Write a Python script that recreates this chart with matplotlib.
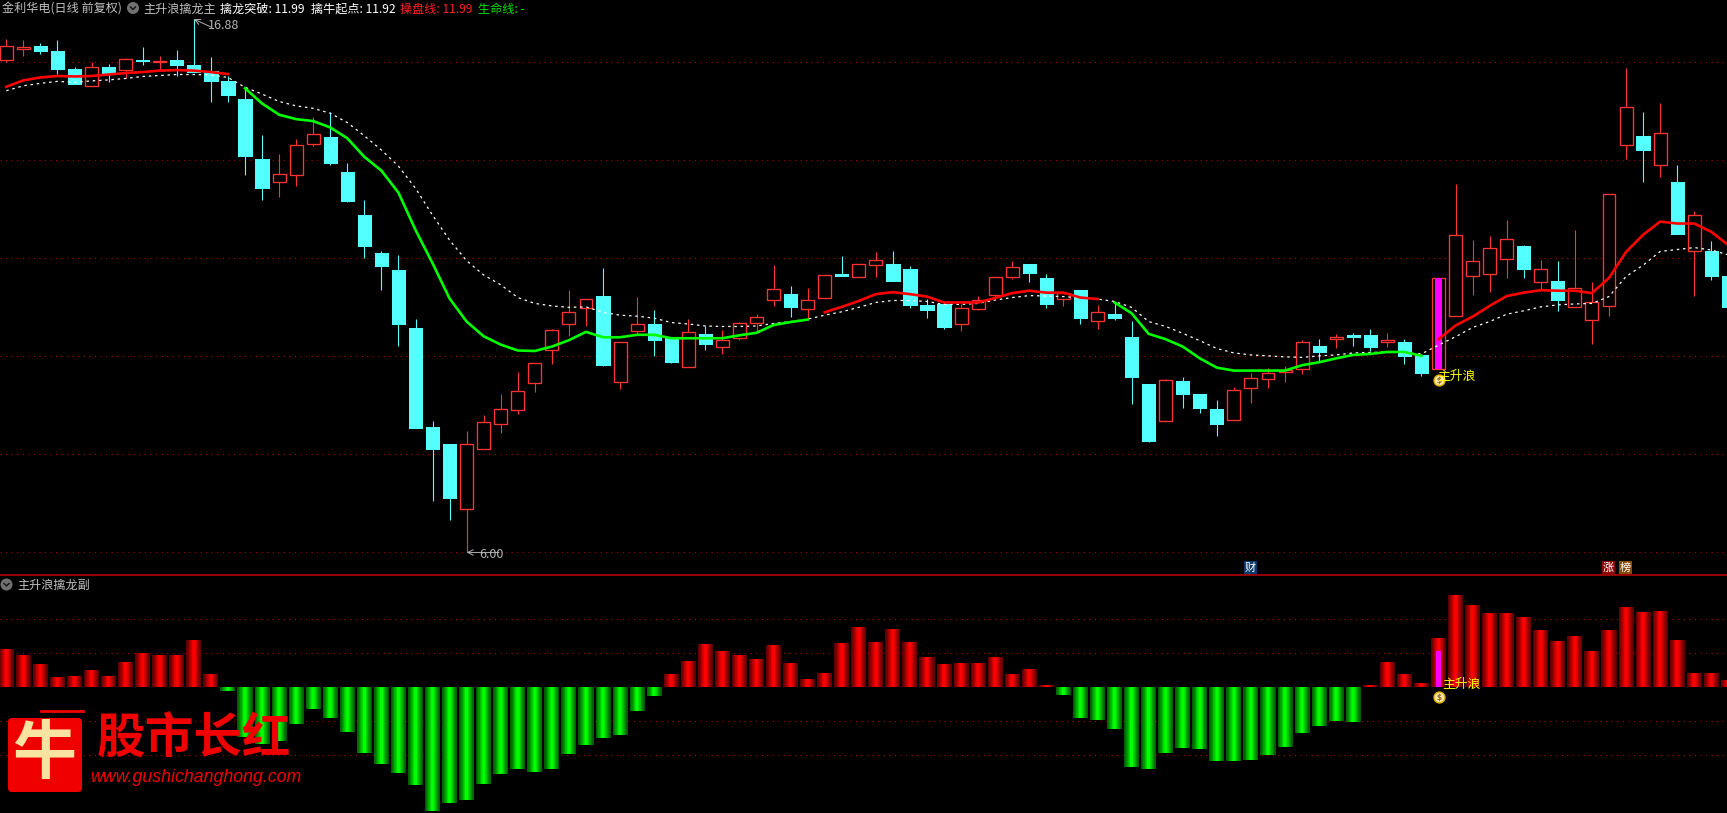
#! /usr/bin/env python
# K-line chart with main line, white dashed line and a histogram panel below

import numpy as np
import matplotlib
matplotlib.use("Agg")
import matplotlib.pyplot as plt
from matplotlib.patches import Circle, FancyBboxPatch, Rectangle

plt.rcParams['font.family'] = ['Noto Sans CJK SC', 'DejaVu Sans']

# candles, one value per day
opens = [16.05, 16.28, 16.33, 16.23, 15.86, 15.52, 15.90, 15.85, 16.05, 16.00, 16.05, 15.95, 15.82, 15.62, 15.25, 14.03, 13.56,
         13.69, 14.34, 14.48, 13.76, 12.88, 12.11, 11.76, 10.58, 8.56, 8.21, 6.89, 8.12, 8.63, 8.91, 9.46, 10.12, 10.67,
         10.99, 11.23, 9.48, 10.52, 10.66, 10.37, 9.79, 10.46, 10.20, 10.38, 10.69, 11.16, 11.27, 10.97, 11.20, 11.68, 11.61,
         11.87, 11.88, 11.78, 11.05, 11.07, 10.67, 10.97, 11.26, 11.61, 11.88, 11.60, 11.17, 11.35, 10.73, 10.86, 10.39, 9.44,
         8.69, 9.50, 9.23, 8.93, 8.71, 9.36, 9.54, 9.69, 9.75, 10.21, 10.35, 10.43, 10.44, 10.30, 10.29, 10.03, 9.75, 10.83,
         11.63, 11.69, 11.99, 12.25, 11.52, 11.54, 11.01, 10.75, 11.03, 14.32, 14.50, 13.91, 13.56, 12.14, 12.15, 11.64]
closes = [16.33, 16.31, 16.23, 15.86, 15.56, 15.90, 15.78, 16.06, 16.03, 16.03, 15.95, 15.81, 15.62, 15.33, 14.09, 13.44, 13.72,
          14.31, 14.53, 13.95, 13.17, 12.25, 11.84, 10.66, 8.54, 8.11, 7.11, 8.22, 8.67, 8.92, 9.29, 9.86, 10.53, 10.90,
          11.18, 9.82, 10.29, 10.67, 10.33, 9.88, 10.49, 10.25, 10.33, 10.69, 10.80, 11.37, 11.01, 11.16, 11.67, 11.63, 11.88,
          11.96, 11.54, 11.05, 10.95, 10.60, 10.98, 11.16, 11.61, 11.82, 11.70, 11.07, 11.29, 10.78, 10.90, 10.78, 9.58, 8.27,
          9.51, 9.23, 8.95, 8.62, 9.31, 9.55, 9.67, 9.72, 10.29, 10.09, 10.39, 10.40, 10.20, 10.33, 10.01, 9.66, 11.59, 12.47,
          11.94, 12.22, 12.39, 11.78, 11.78, 11.15, 11.39, 11.10, 13.31, 15.08, 14.21, 14.55, 12.50, 12.88, 11.64, 11.01]
highs = [16.48, 16.46, 16.40, 16.46, 15.90, 16.01, 15.97, 16.08, 16.31, 16.13, 16.25, 16.88, 16.11, 15.72, 15.49, 14.52, 14.13,
         14.44, 14.88, 14.99, 13.95, 13.19, 12.15, 12.07, 10.76, 8.68, 8.21, 8.48, 8.80, 9.23, 9.68, 9.86, 10.56, 11.35,
         11.18, 11.80, 10.29, 11.21, 10.95, 10.39, 10.76, 10.62, 10.54, 10.71, 10.86, 11.86, 11.44, 11.39, 11.67, 12.05, 11.88,
         12.13, 12.15, 11.84, 11.17, 11.12, 11.07, 11.23, 11.61, 11.95, 11.88, 11.68, 11.32, 11.35, 11.05, 11.09, 10.72, 9.44,
         9.53, 9.58, 9.23, 9.11, 9.37, 9.66, 9.76, 9.80, 10.33, 10.35, 10.46, 10.48, 10.56, 10.48, 10.35, 10.05, 11.59, 13.52,
         12.37, 12.46, 12.78, 12.27, 11.97, 11.95, 12.58, 11.52, 13.31, 15.88, 14.99, 15.17, 13.90, 12.97, 12.35, 11.64]
lows = [16.01, 16.12, 16.17, 15.76, 15.56, 15.52, 15.59, 15.68, 15.95, 15.84, 15.72, 15.81, 15.18, 15.18, 13.70, 13.19, 13.25,
        13.48, 14.29, 13.90, 13.15, 12.01, 11.35, 10.21, 8.54, 7.05, 6.66, 6.00, 8.12, 8.44, 8.82, 9.27, 9.84, 10.41,
        10.62, 9.80, 9.33, 10.46, 10.01, 9.86, 9.79, 10.13, 10.05, 10.33, 10.50, 11.03, 10.80, 10.76, 11.20, 11.63, 11.61,
        11.62, 11.54, 10.99, 10.78, 10.56, 10.52, 10.95, 11.22, 11.58, 11.52, 10.99, 11.03, 10.66, 10.56, 10.74, 9.03, 8.25,
        8.69, 8.95, 8.84, 8.37, 8.71, 9.05, 9.35, 9.48, 9.64, 9.90, 10.17, 10.21, 10.10, 10.19, 9.84, 9.60, 9.75, 10.83,
        11.25, 11.31, 11.60, 11.60, 11.35, 10.93, 11.01, 10.25, 10.82, 14.03, 13.56, 13.66, 12.50, 11.23, 11.56, 11.01]

# main line, coloured by stretch below
main_line = [15.50, 15.63, 15.69, 15.72, 15.71, 15.72, 15.75, 15.78, 15.80, 15.83, 15.84, 15.83, 15.80, 15.76,
             15.47, 15.16, 14.93, 14.84, 14.80, 14.67, 14.45, 14.07, 13.79, 13.34, 12.58, 11.90, 11.18, 10.71, 10.41,
             10.24, 10.12, 10.11, 10.20, 10.33, 10.50, 10.39, 10.39, 10.44, 10.44, 10.37, 10.37, 10.37, 10.37, 10.43,
             10.48, 10.64, 10.70, 10.75,
             10.90, 11.01, 11.13, 11.27, 11.31, 11.27, 11.22, 11.10, 11.10, 11.10, 11.19, 11.29, 11.34, 11.30, 11.30,
             11.20, 11.17,
             11.10, 10.88, 10.46, 10.35, 10.20, 9.96, 9.77, 9.71, 9.71, 9.71, 9.71, 9.82, 9.88, 9.96, 10.03, 10.05,
             10.09, 10.09, 10.01,
             10.35, 10.63, 10.81, 11.03, 11.23, 11.30, 11.35, 11.34, 11.34, 11.29, 11.60, 12.13, 12.48, 12.75, 12.71,
             12.71, 12.54, 12.27]
line_stretches = [(0, 13, '#ff0000'), (14, 47, '#00ff00'), (48, 64, '#ff0000'), (65, 83, '#00ff00'), (84, 101, '#ff0000')]

white_line = [15.42, 15.52, 15.57, 15.61, 15.59, 15.62, 15.64, 15.67, 15.71, 15.73, 15.75, 15.75, 15.74, 15.69, 15.49,
              15.35, 15.20, 15.11, 15.06, 14.96, 14.77, 14.50, 14.21, 13.88, 13.43, 12.88, 12.37, 11.95, 11.66, 11.46,
              11.20, 11.08, 11.03, 11.00, 11.01, 10.90, 10.84, 10.82, 10.78, 10.69, 10.66, 10.62, 10.61, 10.61, 10.62,
              10.67, 10.71, 10.76, 10.84, 10.91, 11.00, 11.10, 11.14, 11.14, 11.12, 11.06, 11.06, 11.08, 11.15, 11.20,
              11.24, 11.23, 11.22, 11.19, 11.17, 11.12, 11.00, 10.71, 10.61, 10.47, 10.32, 10.16, 10.07, 10.03, 10.01,
              9.99, 9.98, 10.01, 10.03, 10.07, 10.08, 10.09, 10.07, 10.05, 10.23, 10.40, 10.59, 10.71, 10.86, 10.93,
              11.01, 11.05, 11.07, 11.08, 11.22, 11.63, 11.86, 12.14, 12.18, 12.22, 12.17, 12.07]

# lower panel histogram
hist_values = [1.13, 0.95, 0.69, 0.30, 0.33, 0.51, 0.33, 0.75, 1.01, 0.95, 0.95, 1.39, 0.39, -0.11, -1.46, -1.67, -1.58,
               -1.08, -0.64, -0.90, -1.31, -1.93, -2.25, -2.52, -2.87, -3.64, -3.40, -3.31, -2.84, -2.55, -2.40, -2.49,
               -2.40, -1.96, -1.70, -1.49, -1.40, -0.70, -0.25, 0.39, 0.77, 1.27, 1.07, 0.95, 0.83, 1.25, 0.72, 0.25,
               0.42, 1.30, 1.77, 1.33, 1.72, 1.33, 0.89, 0.69, 0.72, 0.72, 0.89, 0.39, 0.54, 0.07, -0.23, -0.90, -0.96,
               -1.23, -2.34, -2.40, -1.94, -1.78, -1.81, -2.17, -2.17, -2.14, -2.00, -1.75, -1.34, -1.14, -0.99, -1.02,
               0.07, 0.75, 0.39, 0.13, 1.45, 2.72, 2.42, 2.19, 2.19, 2.07, 1.69, 1.36, 1.51, 1.07, 1.69, 2.36, 2.22,
               2.25, 1.39, 0.42, 0.42, 0.22]

price_grid = [6, 8, 10, 12, 14, 16]
hist_grid = [-2, -1, 1, 2]
signal_day = 84
signal_price = (9.75, 11.59)
signal_hist = 1.07

W, H = 1727, 813
RED = '#ff3333'
CYAN = '#54ffff'
GRID = '#a80000'

fig = plt.figure(figsize=(W / 100, H / 100), dpi=100, facecolor='black')
ax = fig.add_axes([0, 1 - 575 / H, 1, 575 / H], facecolor='black')
ax2 = fig.add_axes([0, 0, 1, (H - 575) / H], facecolor='black')
px = fig.add_axes([0, 0, 1, 1], zorder=5)  # overlay in pixels for header and logo
px.set_xlim(0, W)
px.set_ylim(H, 0)
px.axis('off')

xlim = (-6.3 / 17.05, (W - 6.3) / 17.05)
ax.set_xlim(xlim)
ax.set_ylim(5.54, 17.27)
ax2.set_xlim(xlim)
ax2.set_ylim(-3.69, 3.30)
for a in (ax, ax2):
    a.set_xticks([])
    a.set_yticks([])
    for s in a.spines.values():
        s.set_visible(False)

days = np.arange(len(opens))
o = np.array(opens)
c = np.array(closes)
hi = np.array(highs)
lo = np.array(lows)
rising = c >= o

# grid
for g in price_grid:
    ax.axhline(g, color=GRID, lw=0.8, ls=(0, (1, 4)), zorder=1)
for g in hist_grid:
    ax2.axhline(g, color=GRID, lw=0.8, ls=(0, (1, 4)), zorder=1)
px.plot([0, W], [575.3, 575.3], color='#b00000', lw=1.2)

# candles
top = np.maximum(o, c)
bot = np.minimum(o, c)
for mask, col in ((rising, RED), (~rising, CYAN)):
    ax.vlines(days[mask], top[mask], hi[mask], color=col, lw=0.8, zorder=2)
    ax.vlines(days[mask], lo[mask], bot[mask], color=col, lw=0.8, zorder=2)
ax.bar(days[rising], (top - bot)[rising], bottom=bot[rising], width=0.76, facecolor='black', edgecolor=RED,
       linewidth=0.95, zorder=3)
ax.bar(days[~rising], (top - bot)[~rising], bottom=bot[~rising], width=0.78, facecolor=CYAN, edgecolor=CYAN,
       linewidth=0.4, zorder=3, antialiased=False)
ax.bar([signal_day], [signal_price[1] - signal_price[0]], bottom=[signal_price[0]], width=0.4, color='#ff00ff', zorder=4)

# white dashed line and main line
ax.plot(days, white_line, color='white', lw=0.9, ls=(0, (2, 3)), zorder=5)
main_arr = np.array(main_line)
for start, end, col in line_stretches:
    ax.plot(days[start:end + 1], main_arr[start:end + 1], color=col, lw=1.9, zorder=6)

# histogram, narrowing layers give the bar gradient
vals = np.array(hist_values)
pos = vals > 0
layers = np.linspace(0, 1, 12)
for t in layers:
    w = 0.88 * (1 - t) + 0.14 * t
    level = 0.36 + 0.64 * t ** 1.2
    ax2.bar(days[pos], vals[pos], width=w, color=(level, 0, 0), zorder=2, linewidth=0)
    ax2.bar(days[~pos], vals[~pos], width=w, color=(0, level, 0), zorder=2, linewidth=0)
ax2.bar([signal_day], [signal_hist], width=0.3, color='#ff00ff', zorder=4)

# high and low marks
ax.annotate('', xy=(11, 16.88), xytext=(12.0, 16.72),
            arrowprops=dict(arrowstyle='->', color='#b0b0b0', lw=0.7, shrinkA=0, shrinkB=0), zorder=7)
ax.annotate('16.88', xy=(11, 16.88), xytext=(208, 788), textcoords='figure pixels',
            color='#b4b4b4', fontsize=9, va='center', zorder=7)
ax.annotate('', xy=(27, 6.0), xytext=(28.9, 6.0),
            arrowprops=dict(arrowstyle='->', color='#b0b0b0', lw=0.7, shrinkA=0, shrinkB=0), zorder=7)
ax.annotate('6.00', xy=(27, 6.0), xytext=(479, 259), textcoords='figure pixels',
            color='#b4b4b4', fontsize=9, va='center', zorder=7)


def money_bag(a, y):
    # little gold bag under the signal day, the dollar sign is part of the icon
    a.scatter([signal_day], [y], s=62, facecolor='#ffe9a0', edgecolor='#e0a800', linewidth=1.0, zorder=8)
    a.scatter([signal_day], [y], s=28, marker=r'$\$$', color='#8a5a20', linewidth=0.2, zorder=9)


money_bag(ax, 9.52)
money_bag(ax2, -0.29)
px.text(1437, 376, '主升浪', color='#ffff00', fontsize=9.2, va='center')
px.text(1442, 684, '主升浪', color='#ffff00', fontsize=9.2, va='center')

# header texts
head = [(2, '金利华电(日线 前复权)', '#c0c0c0'), (143, '主升浪擒龙主', '#c0c0c0'), (220, '擒龙突破: 11.99', '#ffffff'),
        (311, '擒牛起点: 11.92', '#ffffff'), (400, '操盘线: 11.99', '#ff2020'), (478, '生命线: -', '#00e000')]
for x, txt, col in head:
    px.text(x, 9, txt, color=col, fontsize=8.7, va='center', ha='left')
px.text(17, 585, '主升浪擒龙副', color='#c0c0c0', fontsize=8.7, va='center')
for cx, cy in ((133, 8), (6.5, 584.5)):
    px.add_patch(Circle((cx, cy), 6, facecolor='#707070', edgecolor='none'))
    px.plot([cx - 2.5, cx, cx + 2.5], [cy - 1, cy + 1.5, cy - 1], color='#111111', lw=1)

# small news badges
for x, txt, col in ((1244, '财', '#0c3a70'), (1602, '涨', '#8a0808'), (1619, '榜', '#8a4a08')):
    px.add_patch(Rectangle((x, 561), 13, 13, facecolor=col, edgecolor='none'))
    px.text(x + 6.5, 567.5, txt, color='white', fontsize=8, ha='center', va='center')

# watermark
px.add_patch(FancyBboxPatch((9, 719), 72, 72, boxstyle='round,pad=1,rounding_size=4', facecolor='#f00000', edgecolor='none'))
px.plot([41, 83], [711, 711], color='#f00000', lw=2)
px.text(44, 754, '牛', color='#f8e4a0', fontsize=46, fontweight='bold', ha='center', va='center')
px.text(194, 739, '股市长红', color='#f00000', fontsize=35, fontweight='bold', ha='center', va='center')
px.text(90, 777, 'www.gushichanghong.com', color='#f00000', fontsize=12.8, style='italic', ha='left', va='center',
        family='Liberation Sans')

fig.savefig('out.png', dpi=100, facecolor='black')
